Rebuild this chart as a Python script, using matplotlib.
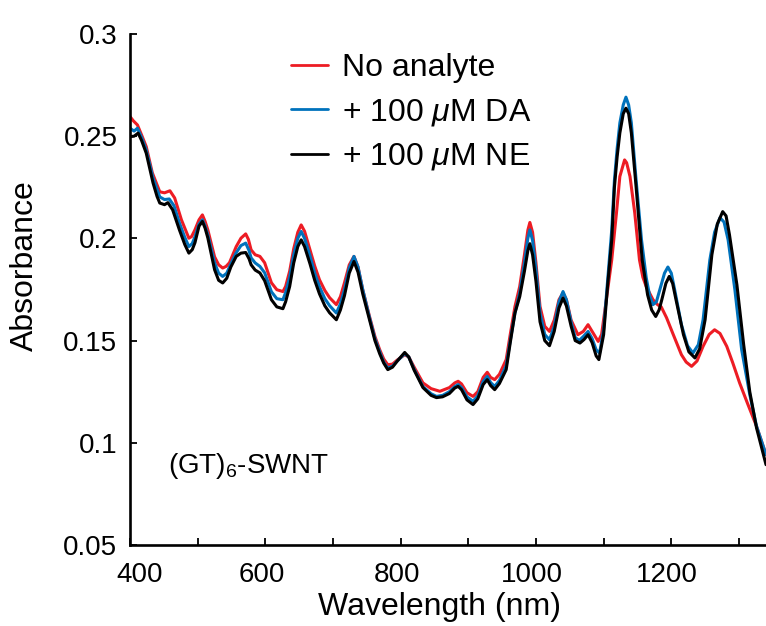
import matplotlib
matplotlib.use("Agg")
import matplotlib.pyplot as plt
from matplotlib.transforms import ScaledTranslation

plt.rcParams['font.family'] = ['Liberation Sans', 'DejaVu Sans']
plt.rcParams['mathtext.fontset'] = 'custom'
plt.rcParams['mathtext.rm'] = 'Liberation Sans'
plt.rcParams['mathtext.it'] = 'Liberation Sans:italic'

# ---- data ----
wl_red = [400, 405, 411, 417, 424, 433, 440, 444, 451, 459, 466, 476, 482, 487, 491, 496, 502, 507,
          511, 515, 525, 531, 537, 542, 547, 557, 564, 571, 575, 579, 585, 592, 599, 609, 617, 626,
          630, 636, 642, 648, 653, 658, 666, 673, 680, 688, 695, 705, 711, 717, 724, 731, 737, 744,
          754, 762, 769, 775, 781, 788, 795, 806, 812, 820, 833, 845, 858, 872, 880, 885, 890, 898,
          907, 914, 922, 928, 933, 939, 946, 956, 962, 969, 976, 983, 988, 991, 995, 1000, 1006,
          1013, 1020, 1027, 1034, 1040, 1045, 1052, 1062, 1070, 1077, 1083, 1092, 1097, 1100, 1106,
          1112, 1119, 1124, 1128, 1131, 1134, 1139, 1146, 1153, 1158, 1163, 1173, 1180, 1185, 1193,
          1203, 1215, 1222, 1230, 1238, 1247, 1256, 1264, 1272, 1282, 1291, 1301, 1313, 1326, 1340]
abs_red = [0.2596, 0.2575, 0.2555, 0.2507, 0.2449, 0.2321, 0.2262, 0.2228, 0.2223, 0.2233, 0.2198,
           0.2091, 0.2042, 0.2001, 0.2009, 0.2042, 0.2091, 0.2115, 0.2083, 0.2042, 0.1910, 0.1871,
           0.1855, 0.1863, 0.1881, 0.1960, 0.2001, 0.2022, 0.1995, 0.1944, 0.1920, 0.1912, 0.1881,
           0.1783, 0.1749, 0.1740, 0.1765, 0.1840, 0.1950, 0.2030, 0.2066, 0.2035, 0.1944, 0.1865,
           0.1798, 0.1745, 0.1710, 0.1676, 0.1715, 0.1783, 0.1870, 0.1912, 0.1860, 0.1749, 0.1618,
           0.1520, 0.1456, 0.1410, 0.1382, 0.1385, 0.1405, 0.1431, 0.1420, 0.1370, 0.1293, 0.1265,
           0.1252, 0.1270, 0.1293, 0.1301, 0.1288, 0.1245, 0.1227, 0.1250, 0.1320, 0.1345, 0.1320,
           0.1309, 0.1335, 0.1407, 0.1530, 0.1667, 0.1765, 0.1920, 0.2040, 0.2078, 0.2030, 0.1880,
           0.1667, 0.1570, 0.1545, 0.1600, 0.1700, 0.1733, 0.1700, 0.1600, 0.1529, 0.1545, 0.1578,
           0.1545, 0.1496, 0.1530, 0.1602, 0.1749, 0.1895, 0.2125, 0.2303, 0.2350, 0.2384, 0.2370,
           0.2303, 0.2125, 0.1895, 0.1810, 0.1764, 0.1700, 0.1675, 0.1666, 0.1612, 0.1529, 0.1431,
           0.1395, 0.1374, 0.1400, 0.1472, 0.1530, 0.1553, 0.1535, 0.1472, 0.1390, 0.1293, 0.1190,
           0.1081, 0.0942]

wl_da = [400, 406, 411, 417, 424, 434, 440, 444, 451, 458, 465, 473, 481, 487, 492, 496, 502, 507,
         511, 515, 525, 531, 537, 543, 549, 557, 564, 571, 576, 579, 585, 592, 599, 609, 617, 626,
         630, 636, 642, 648, 653, 658, 666, 673, 680, 688, 695, 705, 711, 717, 724, 731, 737, 744,
         754, 762, 769, 775, 781, 788, 795, 806, 812, 820, 833, 845, 853, 862, 872, 880, 885, 890,
         898, 907, 914, 922, 928, 933, 939, 946, 956, 962, 969, 976, 983, 988, 991, 995, 1000, 1006,
         1013, 1020, 1027, 1034, 1040, 1045, 1052, 1058, 1064, 1070, 1077, 1083, 1089, 1094, 1100,
         1106, 1112, 1116, 1120, 1124, 1129, 1133, 1137, 1141, 1148, 1156, 1163, 1168, 1173, 1178,
         1183, 1190, 1195, 1200, 1205, 1215, 1224, 1232, 1240, 1247, 1252, 1257, 1264, 1272, 1278,
         1284, 1294, 1304, 1316, 1326, 1340]
abs_da = [0.2539, 0.2525, 0.2539, 0.2495, 0.2433, 0.2296, 0.2240, 0.2203, 0.2190, 0.2193, 0.2160,
          0.2076, 0.2005, 0.1960, 0.1975, 0.2008, 0.2070, 0.2091, 0.2060, 0.2018, 0.1881, 0.1830,
          0.1814, 0.1830, 0.1875, 0.1930, 0.1965, 0.1977, 0.1940, 0.1905, 0.1880, 0.1863, 0.1832,
          0.1739, 0.1705, 0.1700, 0.1735, 0.1810, 0.1920, 0.2000, 0.2034, 0.2000, 0.1915, 0.1830,
          0.1764, 0.1705, 0.1671, 0.1635, 0.1680, 0.1749, 0.1855, 0.1912, 0.1860, 0.1749, 0.1612,
          0.1510, 0.1446, 0.1395, 0.1366, 0.1375, 0.1400, 0.1436, 0.1420, 0.1360, 0.1275, 0.1240,
          0.1227, 0.1232, 0.1250, 0.1275, 0.1285, 0.1270, 0.1225, 0.1203, 0.1230, 0.1300, 0.1325,
          0.1295, 0.1276, 0.1305, 0.1377, 0.1500, 0.1636, 0.1734, 0.1880, 0.2000, 0.2042, 0.1990,
          0.1850, 0.1636, 0.1530, 0.1504, 0.1570, 0.1690, 0.1740, 0.1700, 0.1590, 0.1515, 0.1501,
          0.1520, 0.1545, 0.1510, 0.1455, 0.1439, 0.1553, 0.1798, 0.2042, 0.2286, 0.2440, 0.2565,
          0.2653, 0.2691, 0.2653, 0.2565, 0.2286, 0.1993, 0.1807, 0.1720, 0.1676, 0.1690, 0.1749,
          0.1830, 0.1860, 0.1830, 0.1749, 0.1578, 0.1475, 0.1439, 0.1480, 0.1602, 0.1750, 0.1895,
          0.2030, 0.2101, 0.2080, 0.1993, 0.1749, 0.1456, 0.1236, 0.1081, 0.0942]

wl_ne = [400, 406, 412, 417, 424, 434, 440, 444, 451, 456, 463, 473, 481, 487, 492, 496, 502, 507,
         511, 515, 525, 531, 537, 543, 549, 557, 564, 571, 576, 579, 585, 592, 599, 609, 617, 626,
         630, 636, 642, 648, 653, 658, 666, 673, 680, 688, 695, 705, 711, 717, 724, 731, 737, 744,
         754, 762, 769, 775, 781, 788, 795, 806, 812, 820, 833, 845, 853, 862, 872, 880, 885, 890,
         898, 907, 914, 922, 928, 933, 939, 946, 956, 962, 969, 976, 983, 988, 991, 995, 1000, 1006,
         1013, 1020, 1027, 1034, 1040, 1045, 1052, 1058, 1065, 1071, 1077, 1083, 1089, 1093, 1100,
         1106, 1112, 1116, 1120, 1124, 1129, 1133, 1137, 1141, 1148, 1157, 1165, 1171, 1177, 1182,
         1186, 1192, 1197, 1202, 1207, 1218, 1226, 1235, 1242, 1250, 1255, 1260, 1268, 1276, 1281,
         1286, 1297, 1307, 1316, 1326, 1340]
abs_ne = [0.2498, 0.2500, 0.2515, 0.2480, 0.2417, 0.2272, 0.2205, 0.2173, 0.2165, 0.2175, 0.2140,
          0.2042, 0.1970, 0.1928, 0.1945, 0.1979, 0.2060, 0.2083, 0.2050, 0.2003, 0.1847, 0.1795,
          0.1782, 0.1805, 0.1860, 0.1912, 0.1928, 0.1931, 0.1900, 0.1871, 0.1845, 0.1831, 0.1793,
          0.1700, 0.1665, 0.1656, 0.1690, 0.1765, 0.1880, 0.1960, 0.1993, 0.1960, 0.1876, 0.1795,
          0.1729, 0.1670, 0.1636, 0.1602, 0.1650, 0.1720, 0.1830, 0.1887, 0.1835, 0.1729, 0.1602,
          0.1500, 0.1436, 0.1390, 0.1358, 0.1370, 0.1400, 0.1442, 0.1420, 0.1355, 0.1270, 0.1232,
          0.1221, 0.1225, 0.1241, 0.1268, 0.1276, 0.1260, 0.1210, 0.1187, 0.1215, 0.1285, 0.1309,
          0.1280, 0.1260, 0.1290, 0.1358, 0.1490, 0.1636, 0.1715, 0.1840, 0.1940, 0.1974, 0.1920,
          0.1790, 0.1592, 0.1500, 0.1475, 0.1545, 0.1660, 0.1708, 0.1670, 0.1570, 0.1500, 0.1488,
          0.1505, 0.1529, 0.1490, 0.1425, 0.1407, 0.1529, 0.1773, 0.1993, 0.2252, 0.2400, 0.2516,
          0.2610, 0.2637, 0.2610, 0.2516, 0.2252, 0.1895, 0.1724, 0.1650, 0.1618, 0.1650, 0.1700,
          0.1780, 0.1814, 0.1780, 0.1700, 0.1529, 0.1445, 0.1415, 0.1460, 0.1602, 0.1760, 0.1920,
          0.2070, 0.2131, 0.2110, 0.2018, 0.1773, 0.1480, 0.1250, 0.1073, 0.0893]

labels = ['No analyte', r'+ 100 $\mu$M DA', r'+ 100 $\mu$M NE']
colors = ['#ED1C24', '#0072BC', '#000000']
x_ticks = [400, 500, 600, 700, 800, 900, 1000, 1100, 1200, 1300]
x_ticklabels = ['400', '', '600', '', '800', '', '1000', '', '1200', '']
y_ticks = [0.05, 0.1, 0.15, 0.2, 0.25, 0.3]
y_ticklabels = ['0.05', '0.1', '0.15', '0.2', '0.25', '0.3']

# ---- figure ----
fig = plt.figure(figsize=(7.66, 6.26), dpi=100)
ax = fig.add_axes([130 / 766, 81 / 626, 636 / 766, 511 / 626])

series = [(wl_red, abs_red), (wl_da, abs_da), (wl_ne, abs_ne)]
for (x, y), c, lab in zip(series, colors, labels):
    ax.plot(x, y, color=c, lw=2.2, label=lab, solid_joinstyle='round', solid_capstyle='round')

ax.set_xlim(400, 1340)
ax.set_ylim(0.05, 0.3)
ax.set_xticks(x_ticks)
ax.set_xticklabels(x_ticklabels)
ax.set_yticks(y_ticks)
ax.set_yticklabels(y_ticklabels)

for s in ['top', 'right']:
    ax.spines[s].set_visible(False)
for s in ['left', 'bottom']:
    ax.spines[s].set_linewidth(1.9)

ax.tick_params(direction='in', length=5, width=1.3, labelsize=20)
ax.tick_params(axis='y', pad=9)
ax.tick_params(axis='x', pad=12)

# small horizontal offsets of x tick labels as in the reference
for i, t in enumerate(ax.get_xticklabels()):
    dx = 10 if i == 0 else -4
    t.set_transform(t.get_transform() + ScaledTranslation(dx / 100, 0, fig.dpi_scale_trans))

ax.set_xlabel('Wavelength (nm)', fontsize=23)
ax.set_ylabel('Absorbance', fontsize=23)
ax.xaxis.set_label_coords(0.487, -0.092)
ax.yaxis.set_label_coords(-0.1415, 0.546)

leg = ax.legend(loc='upper left', bbox_to_anchor=(0.253, 0.962), frameon=False, fontsize=23,
                handlelength=1.15, handletextpad=0.45, labelspacing=0.42, borderpad=0,
                borderaxespad=0)
for h in leg.get_lines():
    h.set_linewidth(2.0)

ax.text(0.06, 0.14, r'(GT)$_6$-SWNT', transform=ax.transAxes, fontsize=20, ha='left',
        va='baseline')

fig.savefig('out.png', dpi=100)
